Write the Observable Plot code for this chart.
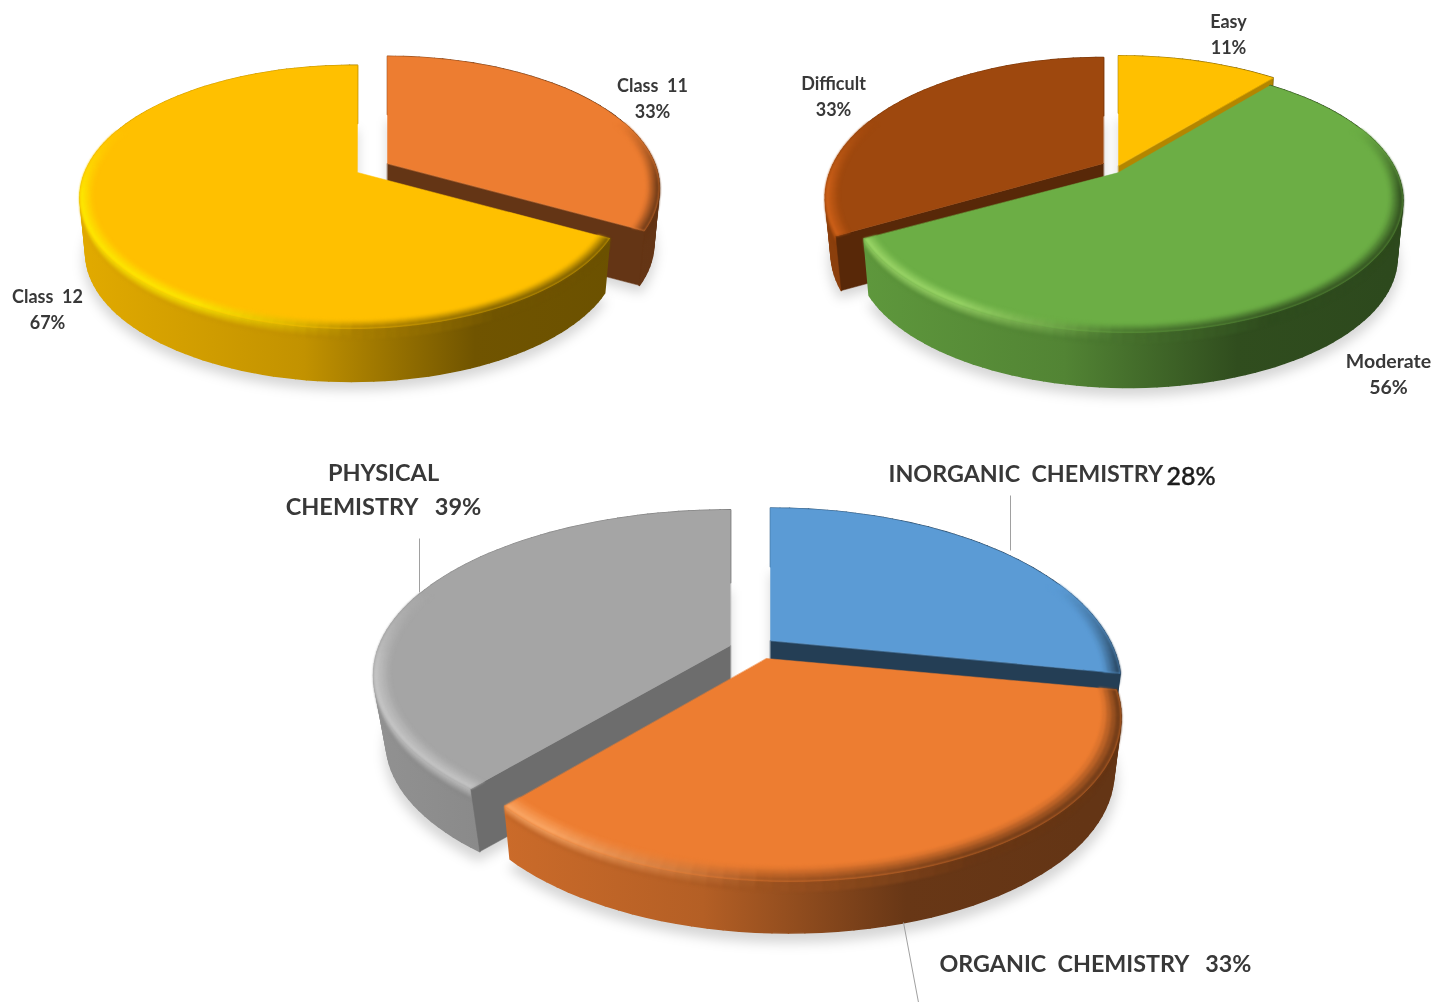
<!DOCTYPE html>
<html>
<head>
<meta charset="utf-8">
<script src="https://cdn.jsdelivr.net/npm/d3@7"></script>
<script src="https://cdn.jsdelivr.net/npm/@observablehq/plot@0.6"></script>
<style>html,body{margin:0;padding:0;background:#fff;overflow:hidden}</style>
</head>
<body>
<div id="chart"></div>
<script>
// ---- values
const classNames = ["Class 11", "Class 12"];
const classValues = [33, 67];
const levelNames = ["Easy", "Moderate", "Difficult"];
const levelValues = [11, 56, 33];
const branchNames = ["INORGANIC CHEMISTRY", "ORGANIC CHEMISTRY", "PHYSICAL CHEMISTRY"];
const branchValues = [28, 33, 39];

// ---- colours
const classColors = ["#ed7d31", "#ffc000"];
const classGlows = ["#ffb070", "#fff200"];
const levelColors = ["#ffc000", "#6cae45", "#9e480e"];
const levelGlows = ["#fff200", "#a6e070", "#d8661a"];
const branchColors = ["#5b9bd5", "#ed7d31", "#a5a5a5"];
const branchGlows = ["#8cc0f0", "#ffb070", "#cdcdcd"];

// ---- layout of each exploded slice (perspective disc, offset apex)
const classLayout = {
  draw: [0, 1],
  geom: [
    {ax: 387, ay: 163, rx: 267, ry: 127, k: 0.186, m: 0, depth: 56, shrink: 0.02, cut: "end", cutShade: 0.42},
    {ax: 357, ay: 172, rx: 267, ry: 127, k: 0.186, m: -0.02, depth: 56, shrink: 0.02}
  ]
};
const levelLayout = {
  draw: [2, 0, 1],
  geom: [
    {ax: 1118, ay: 165, rx: 277, ry: 130, k: 0.186, m: 0, depth: 55, shrink: 0.02, cut: "end", cutShade: 0.7},
    {ax: 1118, ay: 172, rx: 270, ry: 128, k: 0.2, m: 0.03, depth: 58, shrink: 0.02},
    {ax: 1103, ay: 163, rx: 267, ry: 131.6, k: 0.242, m: -0.01, depth: 56, shrink: 0.02, cut: "start", cutShade: 0.56}
  ]
};
const branchLayout = {
  draw: [2, 0, 1],
  geom: [
    {ax: 770, ay: 640, rx: 339, ry: 166, k: 0.254, m: 0, depth: 56, shrink: 0.02, cut: "end", cutShade: 0.4},
    {ax: 766, ay: 658, rx: 317, ry: 148, k: 0.335, m: 0.048, depth: 56, shrink: 0.02},
    {ax: 730, ay: 645, rx: 351, ry: 160, k: 0.18, m: 0, depth: 68, shrink: 0.035, cut: "start", cutShade: 0.66}
  ]
};

function project(g, theta, r, level) {
  const side = Math.sin(theta) * r, f = -Math.cos(theta) * r, w = 1 - g.k * f - g.m * side, s = 1 - g.shrink * level;
  return [g.ax + g.rx * side / w * s, g.ay + g.ry * f / w * s + g.depth * level];
}
const stopAt = [0, 0.4, 0.72, 1], stopShade = [0.88, 0.76, 0.44, 0.42];
const wallStops = d3.scaleLinear().domain(stopAt).range(stopShade).clamp(true);
function shade(color, m) {
  const c = d3.rgb(color);
  return d3.rgb(c.r * m, c.g * m, c.b * m).formatHex();
}
function edgeColor(color, glow, theta) {
  const u = (Math.sin(theta) + 1) / 2, f = -Math.cos(theta);
  const wall = shade(color, wallStops(u));
  const glowW = Math.max(0, Math.min(1, (0.5 - u) / 0.25)) * 0.9;
  const withGlow = d3.interpolateRgb(wall, glow)(glowW);
  const fade = Math.max(0, Math.min(1, (f + 0.35) / 0.5));
  return d3.interpolateRgb(color, withGlow)(fade);
}

let gradCount = 0;
function pieMarks(values, colors, glows, layout) {
  const total = d3.sum(values), cum = d3.cumsum(values);
  const slices = values.map((v, i) => ({
    i, color: colors[i], glow: glows[i], g: layout.geom[i],
    t0: (cum[i] - v) / total * 2 * Math.PI, t1: cum[i] / total * 2 * Math.PI,
    grad: "wall" + (gradCount++)
  }));
  const marks = [];
  const angles = s => d3.range(0, 1.0001, 1 / Math.max(8, Math.round((s.t1 - s.t0) / 0.035))).map(t => s.t0 + t * (s.t1 - s.t0));
  const outline = (s, r, level) => [project(s.g, 0, 0, level), ...angles(s).map(t => project(s.g, t, r, level))];
  // wall gradients, positioned through the x scale
  marks.push((index, scales) => {
    const defs = d3.create("svg:defs");
    for (const s of slices) {
      const lg = defs.append("linearGradient").attr("id", s.grad).attr("gradientUnits", "userSpaceOnUse")
        .attr("x1", scales.x(s.g.ax - s.g.rx)).attr("x2", scales.x(s.g.ax + s.g.rx)).attr("y1", 0).attr("y2", 0);
      stopAt.forEach((p, j) => lg.append("stop").attr("offset", p).attr("stop-color", shade(s.color, stopShade[j])));
    }
    return defs.node();
  });
  // soft shadow
  for (const i of layout.draw) {
    const s = slices[i];
    const rows = outline(s, 1.01, 1.13).map(([x, y]) => ({x, y}));
    marks.push(Plot.line(rows, {x: "x", y: "y", curve: "linear-closed", fill: "#000", fillOpacity: 0.16, stroke: "none", imageFilter: "blur(6px)"}));
  }
  const polys = (rows, extra) => Plot.line(rows, {x: "x", y: "y", z: "id", curve: "linear-closed", fill: "fill", stroke: "fill", strokeWidth: 0.5, ...extra});
  for (const i of layout.draw) {
    const s = slices[i], g = s.g;
    const wallRows = [], headRows = [], faceRows = [], ringRows = [];
    let id = 0;
    const poly = (rows, pts, fill) => { id++; for (const [x, y] of pts) rows.push({x, y, id, fill}); };
    const th = angles(s);
    // outer wall: one quad per arc step, all painted by the same gradient
    for (let j = 0; j < th.length - 1; j++) {
      poly(wallRows, [project(g, th[j], 1, 0), project(g, th[j + 1], 1, 0), project(g, th[j + 1], 1, 1), project(g, th[j], 1, 1)], `url(#${s.grad})`);
    }
    // head of the wall, blending from rim colour to wall colour
    const heads = [0, 0.05, 0.1, 0.15, 0.2];
    for (let q = 0; q < heads.length - 1; q++) {
      for (let j = 0; j < th.length - 1; j++) {
        const mid = (th[j] + th[j + 1]) / 2, u = (Math.sin(mid) + 1) / 2;
        if (-Math.cos(mid) < -0.35) continue;
        const c = d3.interpolateRgb(edgeColor(s.color, s.glow, mid), shade(s.color, wallStops(u)))((q + 1) / (heads.length - 1));
        poly(headRows, [project(g, th[j], 1, heads[q]), project(g, th[j + 1], 1, heads[q]), project(g, th[j + 1], 1, heads[q + 1]), project(g, th[j], 1, heads[q + 1])], c);
      }
    }
    // cut face between slices
    if (g.cut) {
      const t = g.cut === "end" ? s.t1 : s.t0;
      poly(faceRows, [project(g, t, 0, 0), project(g, t, 1, 0), project(g, t, 1, 1), project(g, t, 0, 1)], shade(s.color, g.cutShade));
    }
    // top face
    poly(faceRows, outline(s, 1, 0), s.color);
    // bevel rings on the top plane
    const rings = [0.955, 0.966, 0.977, 0.988, 1];
    for (let q = 0; q < rings.length - 1; q++) {
      for (let j = 0; j < th.length - 1; j++) {
        const mid = (th[j] + th[j + 1]) / 2;
        if (-Math.cos(mid) < -0.35) continue;
        const c = d3.interpolateRgb(s.color, edgeColor(s.color, s.glow, mid))((q + 0.5) / (rings.length - 1));
        poly(ringRows, [project(g, th[j], rings[q], 0), project(g, th[j + 1], rings[q], 0), project(g, th[j + 1], rings[q + 1], 0), project(g, th[j], rings[q + 1], 0)], c);
      }
    }
    marks.push(polys(wallRows, {strokeWidth: 1.6}));
    marks.push(polys(headRows, {imageFilter: "blur(1px)"}));
    marks.push(polys(faceRows));
    marks.push(polys(ringRows, {imageFilter: "blur(1.2px)"}));
  }
  return marks;
}

// ---- text and leader lines
const nb = "\u00a0";
const pct = v => v + "%";
const smallLabels = [
  {text: "Class" + nb + nb + "11\n" + pct(classValues[0]), x: 652, y: 96},
  {text: "Class" + nb + nb + "12\n" + pct(classValues[1]), x: 47, y: 307},
  {text: levelNames[0] + "\n" + pct(levelValues[0]), x: 1228, y: 32},
  {text: levelNames[2] + "\n" + pct(levelValues[2]), x: 833, y: 94}
];
const wideLabels = [
  {text: levelNames[1] + "\n" + pct(levelValues[1]), x: 1388, y: 372}
];
const centerLabels = [
  {text: "PHYSICAL\nCHEMISTRY" + nb + nb + nb + pct(branchValues[2]), x: 383, y: 487}
];
const startLabels = [
  {text: "INORGANIC" + nb + nb + "CHEMISTRY", x: 888, y: 474},
  {text: "ORGANIC" + nb + nb + "CHEMISTRY" + nb + nb + nb + pct(branchValues[1]), x: 939, y: 964}
];
const oddLabels = [{text: pct(branchValues[0]), x: 1166, y: 476}];
const leaders = [
  {x1: 419, y1: 538, x2: 419, y2: 592},
  {x1: 1010, y1: 495, x2: 1010, y2: 550},
  {x1: 903, y1: 922, x2: 918, y2: 1002}
];

const textStyle = {x: "x", y: "y", text: "text", fontFamily: "Lato", fontWeight: 700, fill: "#383838", imageFilter: "blur(0.35px)"};
const chart = Plot.plot({
  width: 1435, height: 1002, margin: 0,
  x: {domain: [0, 1435], range: [0, 1435], axis: null},
  y: {domain: [0, 1002], range: [0, 1002], axis: null},
  color: {type: "identity"},
  style: {background: "#fff"},
  marks: [
    ...pieMarks(classValues, classColors, classGlows, classLayout),
    ...pieMarks(levelValues, levelColors, levelGlows, levelLayout),
    ...pieMarks(branchValues, branchColors, branchGlows, branchLayout),
    Plot.link(leaders, {x1: "x1", y1: "y1", x2: "x2", y2: "y2", stroke: "#a0a0a0", strokeWidth: 1}),
    Plot.text(smallLabels, {...textStyle, fontSize: 18, lineHeight: 1.46, textAnchor: "middle"}),
    Plot.text(wideLabels, {...textStyle, fontSize: 19.5, lineHeight: 1.35, textAnchor: "middle"}),
    Plot.text(centerLabels, {...textStyle, fontSize: 23.5, lineHeight: 1.45, textAnchor: "middle"}),
    Plot.text(startLabels, {...textStyle, fontSize: 23.3, textAnchor: "start"}),
    Plot.text(oddLabels, {x: "x", y: "y", text: "text", fontFamily: "Lato", fontSize: 25, fontWeight: 500, fill: "#1c1c1c", stroke: "#1c1c1c", strokeWidth: 0.4, textAnchor: "start"})
  ]
});
document.getElementById("chart").appendChild(chart);
</script>
</body>
</html>
